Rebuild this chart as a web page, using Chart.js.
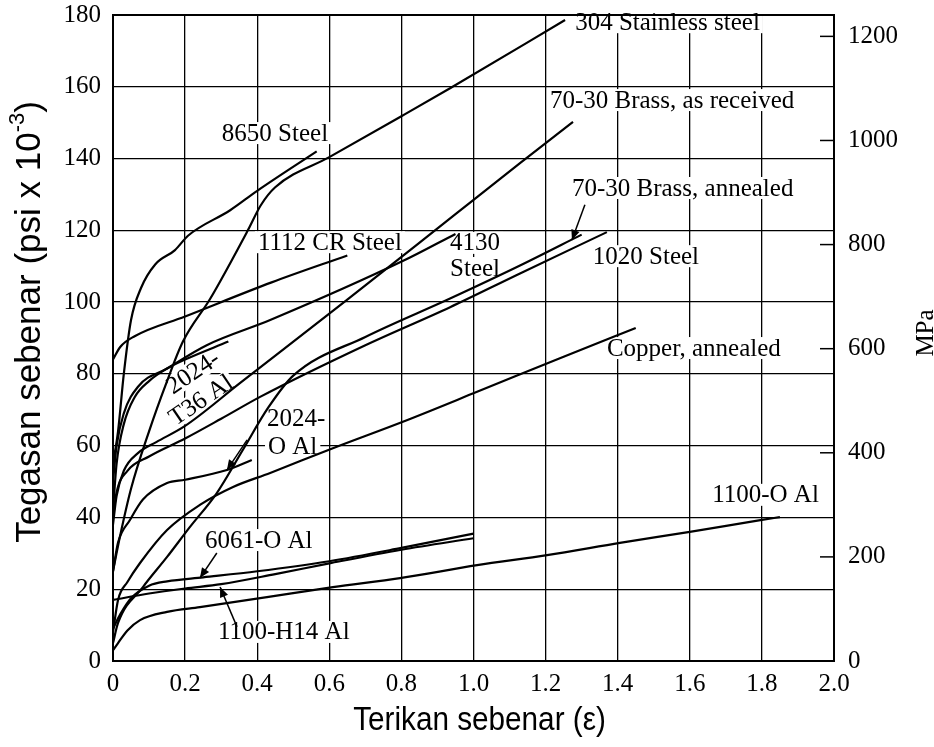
<!DOCTYPE html>
<html>
<head>
<meta charset="utf-8">
<script src="https://cdn.jsdelivr.net/npm/chart.js@4.4.0/dist/chart.umd.min.js"></script>
<style>
    html, body { margin: 0; padding: 0; background: #fff; }
</style>
</head>
<body>
<canvas id="chart" width="934" height="747"></canvas>
<script>
// tick labels
const xTickLabels = ['0', '0.2', '0.4', '0.6', '0.8', '1.0', '1.2', '1.4', '1.6', '1.8', '2.0'];
const yTickLabels = ['0', '20', '40', '60', '80', '100', '120', '140', '160', '180'];
const mpaTickLabels = ['0', '200', '400', '600', '800', '1000', '1200'];

// true strain, true stress (psi x 10^-3)
const ss304 = [[0, 25], [0.02, 35], [0.05, 48], [0.1, 64], [0.15, 78], [0.194, 89], [0.27, 101], [0.374, 120], [0.41, 127], [0.45, 132], [0.6, 140.4], [0.8, 151.8], [0.935, 159.6], [1.254, 178.6]];
const brassReceived = [[0, 38], [0.01, 46], [0.03, 53], [0.07, 58], [0.12, 61], [0.2, 65.5], [0.352, 77.4], [0.649, 100.6], [0.95, 124.5], [1.129, 138.7], [1.276, 150.2]];
const steel8650 = [[0, 55], [0.014, 64], [0.03, 80], [0.05, 95], [0.078, 104], [0.117, 110.5], [0.172, 114.5], [0.208, 118.5], [0.325, 125.6], [0.4, 131], [0.565, 142]];
const steel1112 = [[0, 84], [0.02, 87.5], [0.06, 90.5], [0.2, 96], [0.44, 105.5], [0.65, 113]];
const steel4130 = [[0, 50], [0.01, 60], [0.03, 69], [0.07, 76.5], [0.15, 81.5], [0.26, 88], [0.436, 95], [0.805, 111.5], [0.95, 119]];
const brassAnnealed = [[0, 5], [0.014, 10.6], [0.083, 20.6], [0.15, 29], [0.213, 37.3], [0.288, 46.8], [0.36, 58.8], [0.43, 70.5], [0.5, 79.5], [0.7, 90.3], [0.935, 101], [1.129, 110.2], [1.3, 118.8]];
const steel1020 = [[0, 40], [0.01, 47], [0.04, 53], [0.1, 57], [0.2, 62], [0.3, 67.5], [0.408, 73.6], [0.7, 88], [0.935, 98.6], [1.129, 108], [1.37, 119.5]];
const al2024T36 = [[0, 42], [0.01, 55], [0.03, 66], [0.06, 73.5], [0.1, 78], [0.15, 81.5], [0.2, 84], [0.32, 89]];
const al2024O = [[0, 25], [0.014, 33], [0.047, 39.3], [0.083, 45], [0.15, 49.6], [0.2, 50.5], [0.316, 53.2], [0.385, 56]];
const copper = [[0, 8], [0.014, 17], [0.04, 22], [0.075, 27.3], [0.15, 36.5], [0.241, 43.5], [0.333, 48.5], [0.436, 52.4], [0.61, 59.3], [0.815, 67.1], [1.01, 75], [1.25, 84.8], [1.45, 92.8]];
const al6061O = [[0, 9], [0.02, 13], [0.05, 17.5], [0.1, 21], [0.15, 22.2], [0.25, 23.3], [0.4, 25], [0.6, 27.8], [0.8, 31.5], [1.0, 35.5]];
const al1100H14 = [[0, 17], [0.1, 18.8], [0.2, 20.2], [0.3, 21.4], [0.45, 24.2], [0.6, 27.2], [0.8, 31], [1.0, 34.2]];
const al1100O = [[0, 3], [0.014, 5], [0.04, 8.5], [0.075, 11.4], [0.15, 13.7], [0.241, 15], [0.427, 17.8], [0.61, 20.6], [0.796, 23.1], [1.01, 26.7], [1.204, 29.5], [1.406, 32.9], [1.6, 36], [1.8, 39.3], [1.85, 40.1]];

const curves = [ss304, brassReceived, steel8650, steel1112, steel4130, brassAnnealed, steel1020,
    al2024T36, al2024O, copper, al6061O, al1100H14, al1100O];

// curve names, placed in data units
const curveLabels = [
    { text: '304 Stainless steel', x: 1.282, y: 178 },
    { text: '70-30 Brass, as received', x: 1.212, y: 156.3 },
    { text: '8650 Steel', x: 0.302, y: 147.1 },
    { text: '70-30 Brass, annealed', x: 1.273, y: 131.8 },
    { text: '1112 CR Steel', x: 0.402, y: 116.7 },
    { text: '4130', x: 0.935, y: 116.5 },
    { text: 'Steel', x: 0.935, y: 109.5 },
    { text: '1020 Steel', x: 1.331, y: 112.8 },
    { text: 'Copper, annealed', x: 1.37, y: 87.2 },
    { text: '2024-', x: 0.427, y: 67.7 },
    { text: 'O Al', x: 0.43, y: 59.9 },
    { text: '6061-O Al', x: 0.255, y: 33.7 },
    { text: '1100-O Al', x: 1.662, y: 46.3 },
    { text: '1100-H14 Al', x: 0.291, y: 8.1 },
    { text: '2024-', x: 0.222, y: 80.5, rot: -34 },
    { text: 'T36 Al', x: 0.244, y: 72.7, rot: -34 }
];

const arrows = [
    { from: [0.372, 61.6], to: [0.316, 53.2] },
    { from: [0.288, 30.1], to: [0.241, 23.1] },
    { from: [0.344, 9.5], to: [0.297, 20.6] },
    { from: [1.309, 127.1], to: [1.273, 117.3] }
];

const serif = "'Liberation Serif', 'Times New Roman', serif";
const sans = "'Liberation Sans', Arial, sans-serif";
const labelFont = "25px " + serif;

function arrow(ctx, x1, y1, x2, y2) {
    const a = Math.atan2(y2 - y1, x2 - x1);
    ctx.beginPath();
    ctx.moveTo(x1, y1);
    ctx.lineTo(x2, y2);
    ctx.stroke();
    ctx.beginPath();
    ctx.moveTo(x2, y2);
    ctx.lineTo(x2 - 11 * Math.cos(a - 0.4), y2 - 11 * Math.sin(a - 0.4));
    ctx.lineTo(x2 - 11 * Math.cos(a + 0.4), y2 - 11 * Math.sin(a + 0.4));
    ctx.closePath();
    ctx.fill();
}

const figurePlugin = {
    id: 'figure',
    beforeDatasetsDraw(chart) {
        // white boxes behind the names break the grid
        const { ctx } = chart;
        const xs = chart.scales.x, ys = chart.scales.y;
        ctx.save();
        ctx.font = labelFont;
        ctx.fillStyle = '#fff';
        curveLabels.forEach(l => {
            const px = xs.getPixelForValue(l.x), py = ys.getPixelForValue(l.y);
            const w = ctx.measureText(l.text).width;
            if (l.rot) {
                ctx.save();
                ctx.translate(px, py);
                ctx.rotate(l.rot * Math.PI / 180);
                ctx.fillRect(-w / 2 - 2, -11, w + 4, 22);
                ctx.restore();
            } else {
                ctx.fillRect(px - 3, py - 11, w + 6, 22);
            }
        });
        ctx.restore();
    },
    afterDatasetsDraw(chart) {
        const { ctx, chartArea } = chart;
        const xs = chart.scales.x, ys = chart.scales.y, mpa = chart.scales.y2;
        ctx.save();
        ctx.strokeStyle = '#000';
        ctx.fillStyle = '#000';

        // frame
        ctx.lineWidth = 2;
        ctx.strokeRect(chartArea.left, chartArea.top, chartArea.right - chartArea.left, chartArea.bottom - chartArea.top);

        // inward ticks for the MPa scale
        ctx.lineWidth = 1.5;
        mpa.ticks.forEach(t => {
            const py = mpa.getPixelForValue(t.value);
            ctx.beginPath();
            ctx.moveTo(chartArea.right - 14, py);
            ctx.lineTo(chartArea.right, py);
            ctx.stroke();
        });

        // names
        ctx.font = labelFont;
        ctx.textBaseline = 'middle';
        curveLabels.forEach(l => {
            const px = xs.getPixelForValue(l.x), py = ys.getPixelForValue(l.y);
            if (l.rot) {
                ctx.save();
                ctx.translate(px, py);
                ctx.rotate(l.rot * Math.PI / 180);
                ctx.textAlign = 'center';
                ctx.fillText(l.text, 0, 1);
                ctx.restore();
            } else {
                ctx.textAlign = 'left';
                ctx.fillText(l.text, px, py + 1);
            }
        });

        ctx.lineWidth = 1.5;
        arrows.forEach(a => {
            arrow(ctx, xs.getPixelForValue(a.from[0]), ys.getPixelForValue(a.from[1]),
                xs.getPixelForValue(a.to[0]), ys.getPixelForValue(a.to[1]));
        });

        // bottom title, a little condensed like the original
        ctx.save();
        ctx.translate((chartArea.left + chartArea.right) / 2 + 6, 721);
        ctx.scale(0.9, 1);
        ctx.font = '33px ' + sans;
        ctx.textAlign = 'center';
        ctx.textBaseline = 'middle';
        ctx.fillText('Terikan sebenar (ε)', 0, 0);
        ctx.restore();

        // left title with superscript
        ctx.save();
        ctx.translate(30, 322);
        ctx.rotate(-Math.PI / 2);
        ctx.textBaseline = 'middle';
        ctx.textAlign = 'left';
        const main = 'Tegasan sebenar (psi x 10';
        ctx.font = '35px ' + sans;
        const w1 = ctx.measureText(main).width;
        ctx.font = '22px ' + sans;
        const w2 = ctx.measureText('-3').width;
        ctx.font = '35px ' + sans;
        const w3 = ctx.measureText(')').width;
        const x0 = -(w1 + w2 + w3) / 2;
        ctx.fillText(main, x0, 0);
        ctx.font = '22px ' + sans;
        ctx.fillText('-3', x0 + w1, -12);
        ctx.font = '35px ' + sans;
        ctx.fillText(')', x0 + w1 + w2, 0);
        ctx.restore();

        // right title
        ctx.save();
        ctx.translate(926, 333);
        ctx.rotate(-Math.PI / 2);
        ctx.font = '25px ' + serif;
        ctx.textAlign = 'center';
        ctx.textBaseline = 'middle';
        ctx.fillText('MPa', 0, 0);
        ctx.restore();

        ctx.restore();
    }
};

const datasets = curves.map(c => ({
    data: c.map(p => ({ x: p[0], y: p[1] })),
    borderColor: '#000',
    borderWidth: 2.2,
    pointRadius: 0,
    fill: false,
    cubicInterpolationMode: 'monotone'
}));

// fixed box sizes so the plot frame lands where the original has it
function fixVertical(width) {
    return function (s) {
        s.width = width;
        s.paddingTop = 0;
        s.paddingBottom = 0;
    };
}

new Chart(document.getElementById('chart'), {
    type: 'line',
    data: { datasets: datasets },
    plugins: [figurePlugin],
    options: {
        responsive: false,
        animation: false,
        layout: { padding: { top: 15, left: 0, right: 0, bottom: 0 } },
        plugins: { legend: { display: false }, tooltip: { enabled: false } },
        scales: {
            x: {
                type: 'linear',
                min: 0,
                max: 2,
                afterFit(s) { s.height = 86; s.paddingLeft = 0; s.paddingRight = 0; },
                grid: { color: '#000', lineWidth: 1.3, drawTicks: false },
                border: { color: '#000', width: 2 },
                ticks: {
                    stepSize: 0.2,
                    autoSkip: false,
                    maxRotation: 0,
                    padding: 8,
                    color: '#000',
                    font: { family: serif, size: 25 },
                    callback: (v, i) => xTickLabels[i]
                }
            },
            y: {
                type: 'linear',
                position: 'left',
                min: 0,
                max: 180,
                afterFit: fixVertical(113),
                grid: { color: '#000', lineWidth: 1.3, drawTicks: false },
                border: { color: '#000', width: 2 },
                ticks: {
                    stepSize: 20,
                    autoSkip: false,
                    padding: 12,
                    color: '#000',
                    font: { family: serif, size: 25 },
                    callback: (v, i) => yTickLabels[i]
                }
            },
            y2: {
                type: 'linear',
                position: 'right',
                min: 0,
                max: 180 / 0.145038,
                afterFit: fixVertical(100),
                grid: { display: false, drawTicks: false },
                border: { color: '#000', width: 2 },
                ticks: {
                    stepSize: 200,
                    includeBounds: false,
                    autoSkip: false,
                    padding: 14,
                    color: '#000',
                    font: { family: serif, size: 25 },
                    callback: (v, i) => mpaTickLabels[i]
                }
            }
        }
    }
});
</script>
</body>
</html>
